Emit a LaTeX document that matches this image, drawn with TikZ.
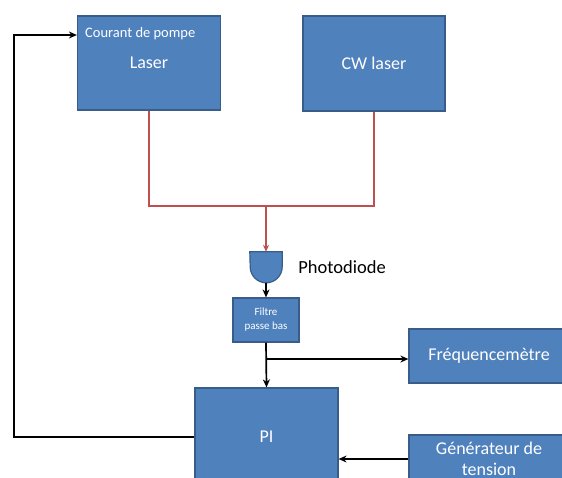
\documentclass[tikz,border=0pt]{standalone}
\usepackage{fontspec}
\setmainfont{Carlito}
\usetikzlibrary{arrows.meta,positioning,calc}
\definecolor{bleu}{HTML}{4F81BD}
\definecolor{bordbleu}{HTML}{385D8A}
\definecolor{rougef}{HTML}{C0504D}

\begin{document}
\begin{tikzpicture}[x=1pt,y=-1pt,
    bloc/.style={draw=bordbleu,fill=bleu,line width=1.2pt,text=white,inner sep=0pt,align=center,font=\fontsize{18}{21}\selectfont},
    fil/.style={line width=1.7pt,-{Stealth[length=8pt,width=7pt]}},
    rouge/.style={draw=rougef,line width=1.5pt}]
    \path[use as bounding box,clip] (0,0) rectangle (562,477);

    % Lasers (top)
    \node[bloc,minimum width=143pt,minimum height=94pt] (laser) at (149,63) {Laser};
    \node[anchor=west,inner sep=0pt,text=white,font=\fontsize{14.5}{17}\selectfont] (pompe) at (85,34) {Courant de pompe};
    \node[bloc,minimum width=142pt,minimum height=95pt] (cw) at (374,63.5) {CW laser};

    % Photodiode and filter
    \node[inner sep=0pt,minimum width=32pt,minimum height=31pt] (pd) at (266,267.5) {};
    \filldraw[fill=bleu,draw=bordbleu,line width=1.2pt] (pd.north west) -- (pd.north east) -- ([yshift=-15pt]pd.north east)
        arc[start angle=0,end angle=-180,radius=16pt] -- cycle;
    \node[right=16pt of pd,inner sep=0pt,font=\fontsize{18.5}{21}\selectfont] (pdlabel) {Photodiode};
    \node[bloc,minimum width=66pt,minimum height=44pt,font=\fontsize{11}{14}\selectfont] (filtre) at (266,320) {Filtre\\passe bas};

    % Bottom blocks
    \node[bloc,minimum width=143pt,minimum height=98pt] (pi) at (266.5,437) {PI};
    \node[bloc,minimum width=160pt,minimum height=54pt] (freq) at (489,356) {Fréquencemètre};
    \node[bloc,minimum width=160pt,minimum height=48pt] (gen) at (489,459) {Générateur de\\tension};

    % Optical paths (red)
    \coordinate (jonction) at (266,206);
    \draw[rouge] (laser.south) |- (jonction) -| (cw.south);
    \draw[rouge,-{Stealth[length=7pt,width=6pt]}] (jonction) -- (pd.north);

    % Electrical paths (black)
    \coordinate (branche) at (266,359);
    \coordinate (retour) at (14,35);
    \draw[fil] (pd.south) -- (filtre.north);
    \draw[fil] (filtre.south) -- (pi.north);
    \draw[fil] (branche) -- (branche -| freq.west);
    \draw[fil] (gen.west) -- (gen.west -| pi.east);
    \draw[fil] (pi.west) -| (retour) -- (retour -| laser.west);
\end{tikzpicture}
\end{document}
